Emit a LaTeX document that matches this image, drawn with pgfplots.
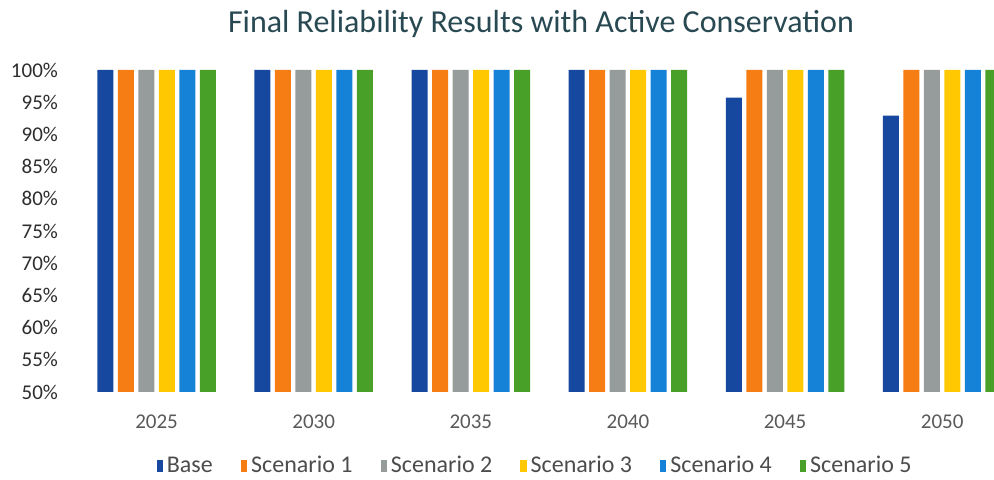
\documentclass[border=0pt]{standalone}
\usepackage{fontspec}
\setmainfont{Carlito}
\usepackage{pgfplots}
\pgfplotsset{compat=1.18}
\definecolor{cBase}{RGB}{22,72,160}
\definecolor{cS1}{RGB}{245,125,20}
\definecolor{cS2}{RGB}{150,155,155}
\definecolor{cS3}{RGB}{255,200,0}
\definecolor{cS4}{RGB}{22,130,215}
\definecolor{cS5}{RGB}{72,160,40}
\definecolor{titlec}{RGB}{40,72,82}
\definecolor{labc}{RGB}{45,45,45}
\begin{document}
\begin{tikzpicture}
\useasboundingbox (0,0) rectangle (497pt,240pt);
\node[font=\fontsize{16}{19}\selectfont, text=titlec] at (270.5pt,228pt) {Final Reliability Results with Active Conservation};
\begin{axis}[
 at={(39pt,44pt)}, anchor=south west,
 scale only axis, width=458pt, height=161pt,
 ybar=2.25pt, bar width=8pt,
 xmin=-0.5, xmax=5.33, ymin=50, ymax=100,
 axis line style={draw=none}, major tick length=0,
 xtick={0,1,2,3,4,5}, xticklabels={2025,2030,2035,2040,2045,2050},
 ytick={50,55,60,65,70,75,80,85,90,95,100},
 yticklabels={50\%,55\%,60\%,65\%,70\%,75\%,80\%,85\%,90\%,95\%,100\%},
 tick label style={font=\fontsize{10.5}{12}\selectfont, text=labc},
 yticklabel style={xshift=-6.5pt},
 xticklabel style={yshift=-8pt, text=black!65},
 clip=true,
 legend style={at={(0.5,-0.23)}, anchor=center, draw=none, fill=none, legend columns=-1,
   font=\fontsize{12}{14}\selectfont, text=black!70,
   /tikz/every even column/.append style={column sep=12pt}},
 legend image code/.code={\fill[#1] (0pt,-2.8pt) rectangle (3.2pt,2.8pt);},
]
\addplot[fill=cBase, draw=none] coordinates {(0,100) (1,100) (2,100) (3,100) (4,95.7) (5,92.9)};
\addplot[fill=cS1, draw=none] coordinates {(0,100) (1,100) (2,100) (3,100) (4,100) (5,100)};
\addplot[fill=cS2, draw=none] coordinates {(0,100) (1,100) (2,100) (3,100) (4,100) (5,100)};
\addplot[fill=cS3, draw=none] coordinates {(0,100) (1,100) (2,100) (3,100) (4,100) (5,100)};
\addplot[fill=cS4, draw=none] coordinates {(0,100) (1,100) (2,100) (3,100) (4,100) (5,100)};
\addplot[fill=cS5, draw=none] coordinates {(0,100) (1,100) (2,100) (3,100) (4,100) (5,100)};
\legend{Base,Scenario 1,Scenario 2,Scenario 3,Scenario 4,Scenario 5}
\end{axis}
\end{tikzpicture}
\end{document}
